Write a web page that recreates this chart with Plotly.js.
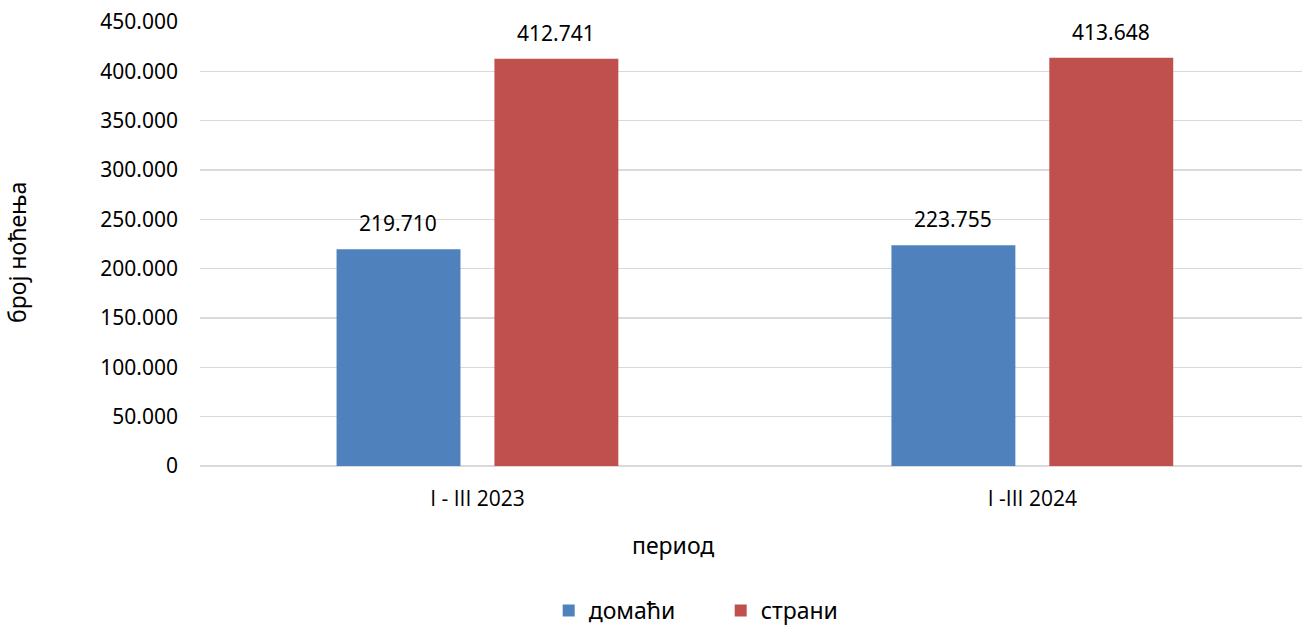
<!DOCTYPE html>
<html>
<head>
<meta charset="utf-8">
<script src="https://cdn.plot.ly/plotly-3.0.1.min.js"></script>
<style>html,body{margin:0;padding:0;background:#fff;}#chart{width:1302px;height:628px;}</style>
</head>
<body>
<div id="chart"></div>
<script>
const categories = ['I - III 2023', 'I -III 2024'];
const domaci = [219710, 223755];
const strani = [412741, 413648];
const seriesNames = ['домаћи', 'страни'];
const yTickVals = [0, 50000, 100000, 150000, 200000, 250000, 300000, 350000, 400000, 450000];

function fmt(v) {
  return String(v).replace(/\B(?=(\d{3})+(?!\d))/g, '.');
}
const FONT = 'Noto Sans';

const traces = [
  {type: 'bar', name: seriesNames[0], x: categories, y: domaci, marker: {color: '#4F81BD'}, hoverinfo: 'skip'},
  {type: 'bar', name: seriesNames[1], x: categories, y: strani, marker: {color: '#C0504D'}, hoverinfo: 'skip'}
];

const annotations = [];
[domaci, strani].forEach((arr, si) => {
  arr.forEach((v, i) => {
    annotations.push({
      x: categories[i], y: v, xref: 'x', yref: 'y',
      text: fmt(v), showarrow: false, yanchor: 'bottom',
      xshift: si === 0 ? -79 : 79, yshift: 10,
      font: {family: FONT, size: 21, color: '#000'}
    });
  });
});
annotations.push({
  xref: 'paper', yref: 'paper', x: -0.166, y: 0.48, xanchor: 'center', yanchor: 'middle',
  text: 'број ноћења', showarrow: false, textangle: -90,
  font: {family: FONT, size: 23, color: '#000'}
});
annotations.push({
  xref: 'paper', yref: 'paper', x: 0.429, y: -0.178, xanchor: 'center', yanchor: 'middle',
  text: 'период', showarrow: false,
  font: {family: FONT, size: 23, color: '#000'}
});

const layout = {
  width: 1302, height: 628,
  margin: {l: 200, r: 0, t: 22, b: 162, autoexpand: false},
  paper_bgcolor: '#fff', plot_bgcolor: '#fff',
  barmode: 'group', bargap: 0.431, bargroupgap: 0.215,
  showlegend: true,
  legend: {orientation: 'h', x: 0.4725, xanchor: 'center', y: -0.374, yanchor: 'bottom',
           font: {family: FONT, size: 23, color: '#000'}, entrywidth: 127, traceorder: 'normal'},
  xaxis: {type: 'category', range: [-0.5, 1.486], showgrid: false, zeroline: false,
          showline: false, ticks: '', ticklabelstandoff: 18,
          tickfont: {family: 'Open Sans', size: 21, color: '#000'}, automargin: false},
  yaxis: {range: [0, 450000], tickvals: yTickVals, ticktext: yTickVals.map(fmt),
          showgrid: true, gridcolor: '#d9d9d9', gridwidth: 1.5, zeroline: true, zerolinecolor: '#d9d9d9', zerolinewidth: 1.5,
          showline: false, ticks: '', ticklabelstandoff: 21,
          tickfont: {family: FONT, size: 21, color: '#000'}, automargin: false},
  annotations: annotations
};

Plotly.newPlot('chart', traces, layout, {displayModeBar: false, staticPlot: true});
</script>
</body>
</html>
